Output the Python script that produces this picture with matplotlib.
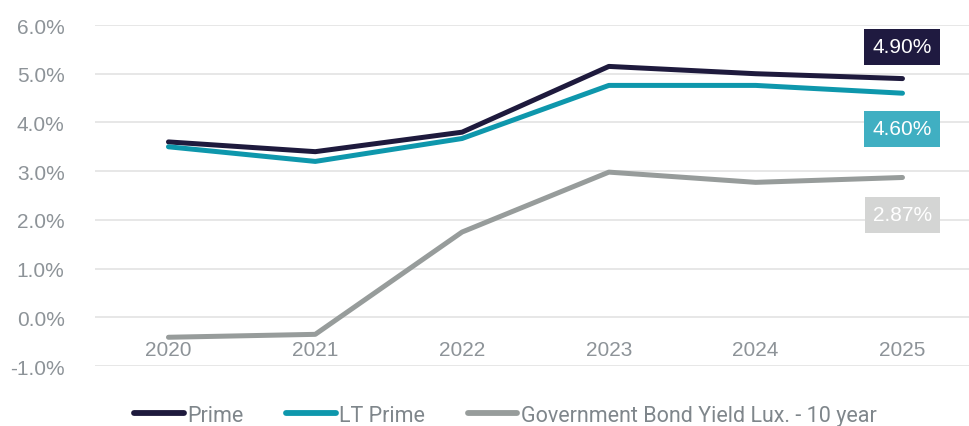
import matplotlib
matplotlib.use("Agg")
import matplotlib.pyplot as plt
from matplotlib import font_manager

years = ["2020", "2021", "2022", "2023", "2024", "2025"]
prime = [3.60, 3.40, 3.80, 5.15, 5.00, 4.90]
lt_prime = [3.50, 3.20, 3.67, 4.76, 4.76, 4.60]
gov_bond = [-0.41, -0.35, 1.75, 2.98, 2.77, 2.87]
series_names = ["Prime", "LT Prime", "Government Bond Yield Lux. - 10 year"]
end_labels = ["4.90%", "4.60%", "2.87%"]
label_y = [5.55, 3.87, 2.10]

colors = ["#1e1a3d", "#0e97ac", "#979c9b"]
box_colors = ["#1f1a40", "#40afc2", "#d4d5d4"]

names = {f.name for f in font_manager.fontManager.ttflist}
narrow = "Liberation Sans Narrow" if "Liberation Sans Narrow" in names else "Roboto"
plt.rcParams['font.family'] = ['Liberation Sans', 'DejaVu Sans']

fig = plt.figure(figsize=(9.7, 4.27), dpi=100)
ax = fig.add_axes([0.098, 0.1405, 0.902, 0.7986])

x = list(range(len(years)))
for vals, c, n in zip([prime, lt_prime, gov_bond], colors, series_names):
    ax.plot(x, vals, color=c, lw=3.6, solid_capstyle='round', label=n, zorder=3)

for lab, ly, bc in zip(end_labels, label_y, box_colors):
    ax.text(x[-1], ly, lab, ha='center', va='center', color='white', fontsize=15,
            bbox=dict(boxstyle='square,pad=0.4', fc=bc, ec='none'), zorder=4)

ax.set_ylim(-1, 6)
ax.set_xlim(-0.5, 5.46)
ax.set_yticks([-1, 0, 1, 2, 3, 4, 5, 6])
ax.set_yticklabels([f"{v:.1f}%" for v in [-1, 0, 1, 2, 3, 4, 5, 6]])
ax.grid(axis='y', color='#e3e3e3', lw=1.2, zorder=0)
ax.set_xticks(x)
ax.set_xticklabels(years)
ax.spines['bottom'].set_position(('data', 0))
for s in ax.spines.values():
    s.set_visible(False)
ax.tick_params(axis='both', length=0, colors='#8d9398', labelsize=15)
ax.tick_params(axis='x', pad=16)
ax.tick_params(axis='y', pad=22)

leg = fig.legend(loc='lower center', bbox_to_anchor=(0.521, -0.045), ncol=3, frameon=False,
                 handlelength=2.3, handletextpad=0.15, columnspacing=2.0,
                 prop={'family': narrow, 'size': 15.5})
for line in leg.get_lines():
    line.set_linewidth(4.2)
    line.set_solid_capstyle('round')
for t in leg.get_texts():
    t.set_color('#7f868b')

fig.savefig("out.png", dpi=100)
